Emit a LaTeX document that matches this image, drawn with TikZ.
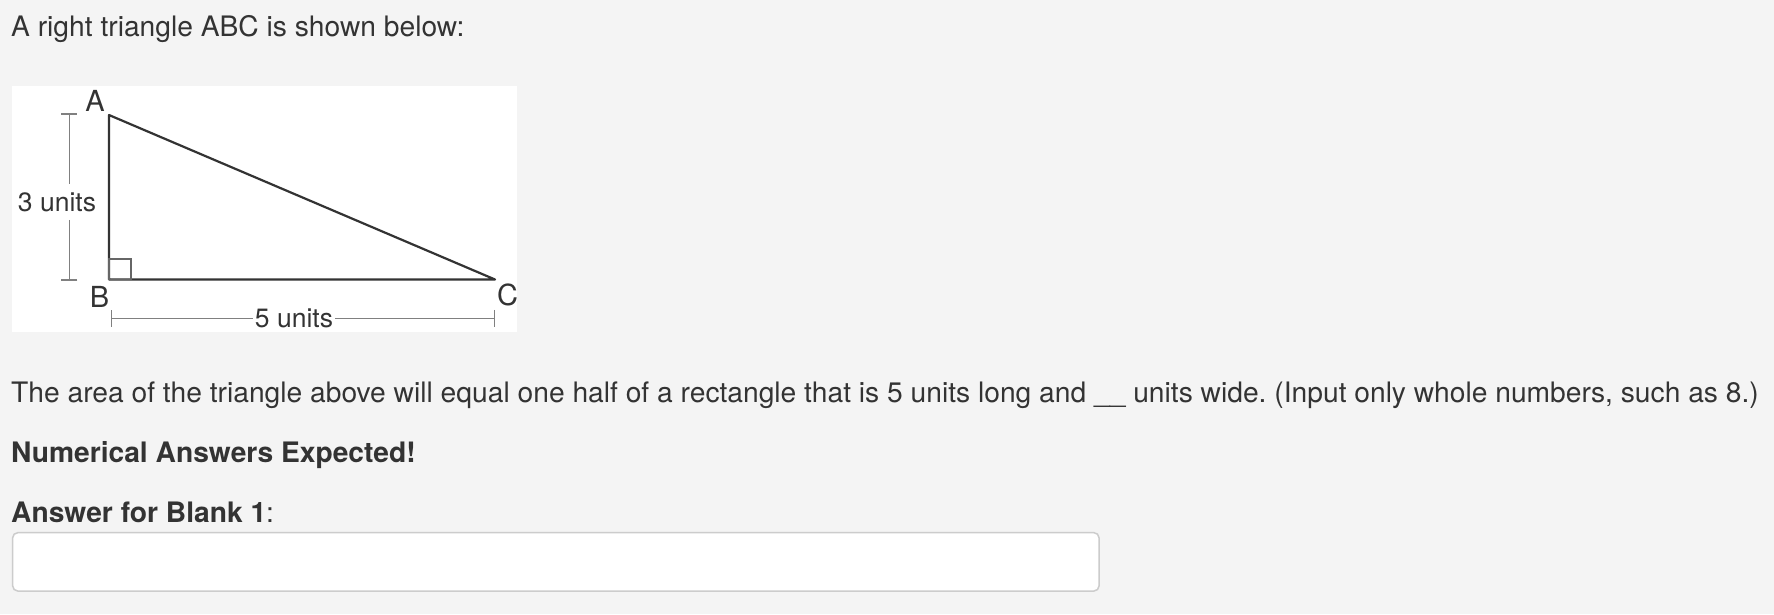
\documentclass[tikz,border=0pt]{standalone}
\usepackage{fontspec}
\setmainfont{TeX Gyre Heros}
\usetikzlibrary{arrows.meta}
\definecolor{page_bg}{HTML}{F4F4F4}
\definecolor{text_col}{HTML}{333333}
\definecolor{line_col}{HTML}{333333}
\definecolor{dim_col}{HTML}{808080}
\definecolor{box_col}{HTML}{CCCCCC}
\frenchspacing

\begin{document}
\begin{tikzpicture}
  [x=1pt,y=-1pt,every node/.style={inner sep=0pt,text=text_col}]
      \tikzstyle{text_style} = [anchor=base west, font=\fontsize{28.2}{34}\selectfont]
      \tikzstyle{edge_style} = [draw=line_col, line width=2.2, line join=round]
      \tikzstyle{dim_style} = [draw=dim_col, line width=1.4]
      \tikzstyle{vertex_label} = [font=\fontsize{29}{35}\selectfont]
      \tikzstyle{dim_label} = [font=\fontsize{26.5}{32}\selectfont, inner xsep=2pt, inner ysep=8pt]
  \fill[page_bg] (0,0) rectangle (1774,614);
  \useasboundingbox (0,0) rectangle (1774,614);
  % question text
  \node[text_style] (title) at (11,36) {A right triangle ABC is shown below:};
  \node[text_style] (question) at (11,402) {The area of the triangle above will equal one half of a rectangle that is 5 units long and \_\_ units wide. (Input only whole numbers, such as 8.)};
  \node[text_style] (expect) at (11,462.3) {\textbf{Numerical Answers Expected!}};
  \node[text_style] (blank) at (11,522.3) {\textbf{Answer for Blank 1}:};
  \draw[draw=box_col, fill=white, line width=1.5, rounded corners=5] (12.7,532.7) rectangle (1099,591);
  % the figure
  \fill[white] (12.2,86) rectangle (517.3,331.7);
  \coordinate (A) at (109,115);
  \coordinate (B) at (109,279.5);
  \coordinate (C) at (495,279.5);
  \draw[edge_style] (A) -- (B) -- (C) -- cycle;
  \draw[draw=line_col!75, line width=1.2] (B) rectangle ++(22,-20.5);
  \node[vertex_label] (lA) at (95,100.5) {A};
  \node[vertex_label] (lB) at (99.5,296.7) {B};
  \node[vertex_label] (lC) at (507.5,295) {C};
  % dimensions
  \coordinate (d3_top) at (69.3,113.3);
  \coordinate (d3_bot) at (69.3,280.7);
  \node[dim_label] (l3) at (57,202) {3 units};
  \draw[dim_style, {Bar[width=16pt]}-] (d3_top) -- (l3.north -| d3_top);
  \draw[dim_style, -{Bar[width=16pt]}] (l3.south -| d3_bot) -- (d3_bot);
  \coordinate (d5_left) at (111,318.3);
  \coordinate (d5_right) at (495,318.3);
  \node[dim_label] (l5) at (294,318.3) {5 units};
  \draw[dim_style, {Bar[width=17pt]}-] (d5_left) -- (l5.west |- d5_left);
  \draw[dim_style, -{Bar[width=17pt]}] (l5.east |- d5_right) -- (d5_right);
\end{tikzpicture}
\end{document}
